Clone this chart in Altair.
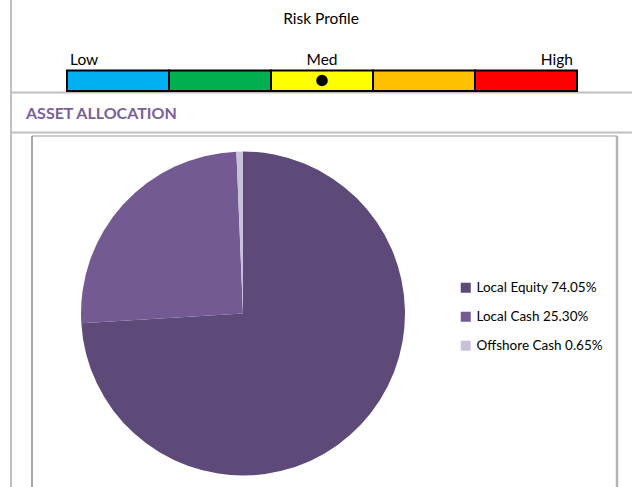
import altair as alt
import pandas as pd

# ---- data ----
categories = ["Local Equity", "Local Cash", "Offshore Cash"]
allocation = [74.05, 25.30, 0.65]
pie_colors = ["#5e4a79", "#735a92", "#c9c0da"]

risk_segments = [1, 2, 3, 4, 5]
risk_colors = ["#00b0f0", "#00b050", "#ffff00", "#ffc000", "#ff0000"]
risk_label_text = ["Low", "Med", "High"]
risk_label_pos = [0, 2.5, 5]
risk_label_align = ["left", "center", "right"]
risk_score = 3  # Med segment

FONT = "Lato"
W, H = 632, 487

pie_df = pd.DataFrame({
    "cat": categories,
    "value": allocation,
    "order": list(range(len(categories))),
})
pie_df["label"] = [f"{c} {v:.2f}%" for c, v in zip(categories, allocation)]

risk_df = pd.DataFrame({
    "seg": risk_segments,
    "start": [s - 1 for s in risk_segments],
    "end": risk_segments,
})
marker_df = pd.DataFrame({"pos": [risk_score - 0.5]})
rlab_df = pd.DataFrame({"t": risk_label_text, "pos": risk_label_pos, "al": risk_label_align})
dummy = pd.DataFrame({"k": [0]})

xs = alt.Scale(domain=[0, 5], range=[67, 577])


def hrule(y, x1, x2, color, w):
    return alt.Chart(dummy).mark_rule(color=color, strokeWidth=w).encode(
        x=alt.value(x1), x2=alt.value(x2), y=alt.value(y))


def vrule(x, y1, y2, color, w):
    return alt.Chart(dummy).mark_rule(color=color, strokeWidth=w).encode(
        x=alt.value(x), y=alt.value(y1), y2=alt.value(y2))


def text(t, x, y, size, color="#000000", weight="normal", align="center"):
    return alt.Chart(dummy).mark_text(
        text=t, font=FONT, fontSize=size, color=color, fontWeight=weight,
        align=align, baseline="middle").encode(x=alt.value(x), y=alt.value(y))


frame = [
    vrule(11, 0, H, "#c0c0c0", 2),
    hrule(92.5, 11, 632, "#c0c0c0", 2),
    hrule(132.5, 11, 632, "#c0c0c0", 2),
    hrule(136, 32, 617, "#bdbdbd", 1.5),
    vrule(32, 136, H, "#8a8a8a", 1.5),
    vrule(617, 136, H, "#b3b3b3", 2.5),
]

titles = [
    text("Risk Profile", 321, 19, 15.5),
    text("ASSET ALLOCATION", 26, 114, 16, color="#7a5f9b", weight="bold", align="left"),
]

risk_bar = alt.Chart(risk_df).mark_rect(stroke="#000000", strokeWidth=2).encode(
    x=alt.X("start:Q", scale=xs, axis=None),
    x2="end:Q",
    y=alt.value(70.5),
    y2=alt.value(91),
    color=alt.Color("seg:O", scale=alt.Scale(domain=risk_segments, range=risk_colors), legend=None),
)

RL = 15.5
risk_labels = alt.Chart(rlab_df).transform_filter("datum.al == 'left'").mark_text(
    font=FONT, fontSize=RL, align="left", baseline="middle", dx=3).encode(
    x=alt.X("pos:Q", scale=xs, axis=None), y=alt.value(60), text="t:N")
risk_labels_c = alt.Chart(rlab_df).transform_filter("datum.al == 'center'").mark_text(
    font=FONT, fontSize=RL, align="center", baseline="middle").encode(
    x=alt.X("pos:Q", scale=xs, axis=None), y=alt.value(60), text="t:N")
risk_labels_r = alt.Chart(rlab_df).transform_filter("datum.al == 'right'").mark_text(
    font=FONT, fontSize=RL, align="right", baseline="middle", dx=-4).encode(
    x=alt.X("pos:Q", scale=xs, axis=None), y=alt.value(60), text="t:N")

marker = alt.Chart(marker_df).mark_point(filled=True, color="#000000", size=135, opacity=1).encode(
    x=alt.X("pos:Q", scale=xs, axis=None), y=alt.value(80.5))

pie = alt.Chart(pie_df).mark_arc(radius=162).encode(
    theta=alt.Theta("value:Q", stack=True),
    order=alt.Order("order:Q"),
    x=alt.value(243),
    y=alt.value(313.5),
    color=alt.Color(
        "label:N",
        sort=pie_df["label"].tolist(),
        scale=alt.Scale(domain=pie_df["label"].tolist(), range=pie_colors),
        legend=alt.Legend(
            title=None, orient="none", legendX=459, legendY=281,
            symbolType="square", symbolSize=100, symbolStrokeWidth=0,
            labelFont=FONT, labelFontSize=13.5, labelColor="#000000",
            labelOffset=4, rowPadding=14,
        ),
    ),
)

chart = alt.layer(
    *frame, *titles, risk_bar, risk_labels, risk_labels_c, risk_labels_r, marker, pie
).resolve_scale(color="independent").properties(
    width=W, height=H, padding=0, autosize=alt.AutoSizeParams(type="none"),
    background="#ffffff",
).configure_view(stroke=None)

chart.save("out.html", embed_options={"renderer": "svg", "actions": False})
